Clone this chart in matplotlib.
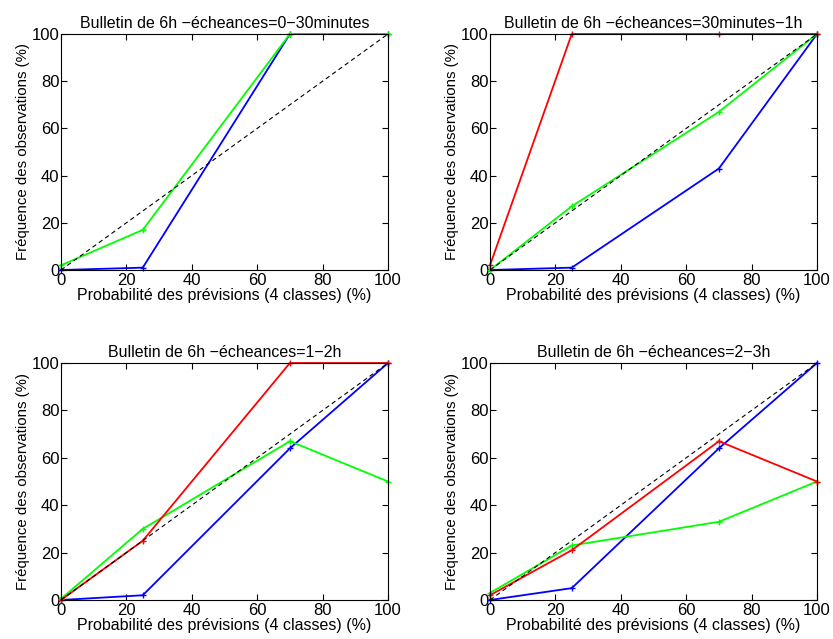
import numpy as np
import matplotlib.pyplot as plt

plt.rcParams["font.family"] = ["Liberation Sans", "DejaVu Sans"]

# classes de probabilite
proba = [0, 25, 70, 100]

titres = [
    "Bulletin de 6h \u2212écheances=0\u221230minutes",
    "Bulletin de 6h \u2212écheances=30minutes\u22121h",
    "Bulletin de 6h \u2212écheances=1\u22122h",
    "Bulletin de 6h \u2212écheances=2\u22123h",
]

# frequences observees par echeance
bleu = [
    [0, 1, 100, 100],
    [0, 1, 43, 100],
    [0, 2, 64, 100],
    [0, 5, 64, 100],
]
vert = [
    [2, 17, 100, 100],
    [0, 27, 67, 100],
    [0.5, 30, 67, 50],
    [3, 23, 33, 50],
]
rouge = [
    None,
    [2, 100, 100, 100],
    [0, 25, 100, 100],
    [2, 21, 67, 50],
]

fig = plt.figure(figsize=(8.33, 6.39), dpi=100)
W, H = 833, 639
boxes = [
    (61, 34, 388, 270),
    (490, 34, 817, 270),
    (61, 363, 388, 600),
    (490, 363, 817, 600),
]

for i, (x0, y0, x1, y1) in enumerate(boxes):
    ax = fig.add_axes([x0 / W, 1 - y1 / H, (x1 - x0) / W, (y1 - y0) / H])
    ax.plot([0, 100], [0, 100], "k--", lw=0.8, dashes=(4, 3), zorder=3)
    ax.plot(proba, bleu[i], color="blue", marker="+", ms=4, lw=1.3, clip_on=False)
    ax.plot(proba, vert[i], color="#00ff00", marker="+", ms=4, lw=1.3, clip_on=False)
    if rouge[i] is not None:
        ax.plot(proba, rouge[i], color="red", marker="+", ms=4, lw=1.3, clip_on=False)
    ax.set_xlim(0, 100)
    ax.set_ylim(0, 100)
    ax.set_xticks(np.arange(0, 101, 20))
    ax.set_yticks(np.arange(0, 101, 20))
    ax.tick_params(direction="in", top=True, right=True, labelsize=12, length=4)
    ax.tick_params(axis="x", pad=2)
    ax.tick_params(axis="y", pad=1)
    ax.set_title(titres[i], fontsize=11.5, pad=4)
    ax.set_xlabel("Probabilité des prévisions (4 classes) (%)", fontsize=11.5, labelpad=0)
    ax.set_ylabel("Fréquence des observations (%)", fontsize=10.8, labelpad=1)
    for s in ax.spines.values():
        s.set_linewidth(0.8)

fig.savefig("out.png", dpi=100)
